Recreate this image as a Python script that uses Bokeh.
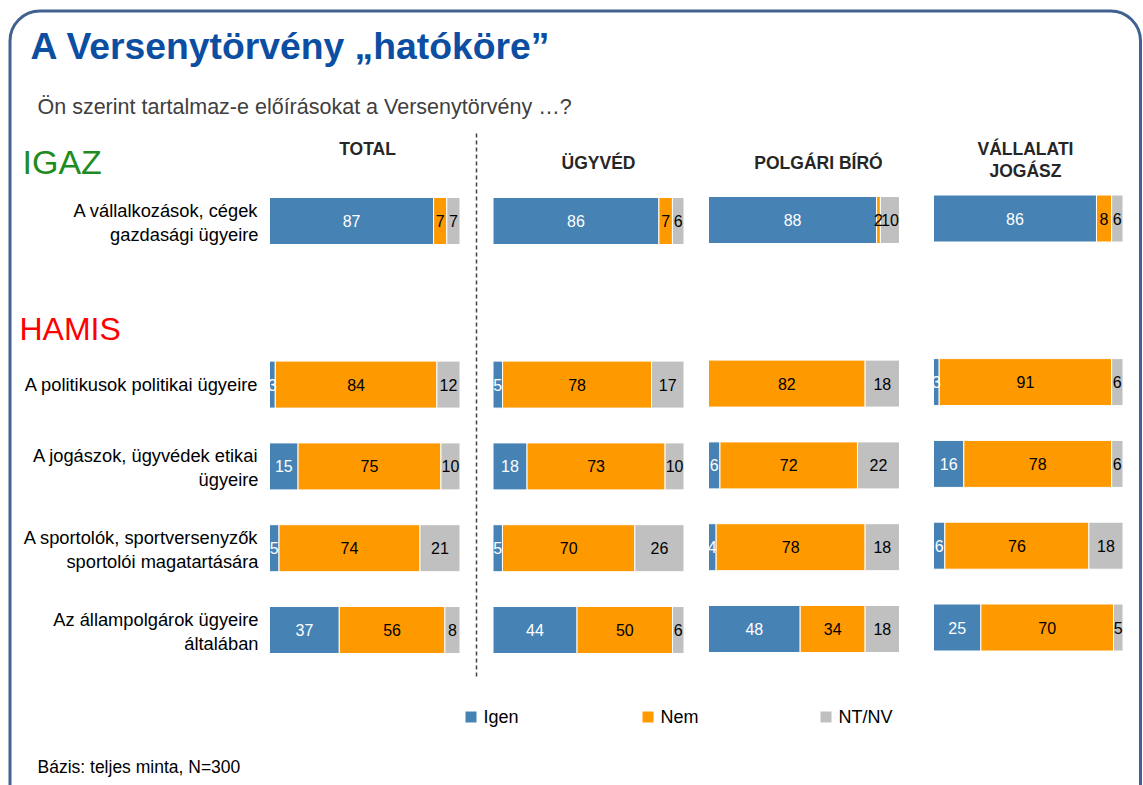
from bokeh.plotting import figure
from bokeh.models import Range1d, ColumnDataSource, BoxAnnotation
from bokeh.core.properties import value
from bokeh.embed import file_html
from bokeh.resources import INLINE

# ---------------- data ----------------
title_text = "A Versenytörvény „hatóköre”"
subtitle_text = "Ön szerint tartalmaz-e előírásokat a Versenytörvény …?"
footer_text = "Bázis: teljes minta, N=300"
section_labels = ["IGAZ", "HAMIS"]

statement_lines = [
    ["A vállalkozások, cégek", "gazdasági ügyeire"],
    ["A politikusok politikai ügyeire"],
    ["A jogászok, ügyvédek etikai", "ügyeire"],
    ["A sportolók, sportversenyzők", "sportolói magatartására"],
    ["Az állampolgárok ügyeire", "általában"],
]
statement_rows = [0, 2, 3, 4, 5]

series_names = ["Igen", "Nem", "NT/NV"]
series_colors = ["#4682B4", "#FF9900", "#C0C0C0"]
series_text_colors = ["#FFFFFF", "#000000", "#000000"]

group_headers = [["TOTAL"], ["ÜGYVÉD"], ["POLGÁRI BÍRÓ"], ["VÁLLALATI", "JOGÁSZ"]]

total_igen = [87, 3, 15, 5, 37]
total_nem = [7, 84, 75, 74, 56]
total_ntnv = [7, 12, 10, 21, 8]

ugyved_igen = [86, 5, 18, 5, 44]
ugyved_nem = [7, 78, 73, 70, 50]
ugyved_ntnv = [6, 17, 10, 26, 6]

biro_igen = [88, 0, 6, 4, 48]
biro_nem = [2, 82, 72, 78, 34]
biro_ntnv = [10, 18, 22, 18, 18]

jogasz_igen = [86, 3, 16, 6, 25]
jogasz_nem = [8, 91, 78, 76, 70]
jogasz_ntnv = [6, 6, 6, 18, 5]

group_data = [
    (total_igen, total_nem, total_ntnv),
    (ugyved_igen, ugyved_nem, ugyved_ntnv),
    (biro_igen, biro_nem, biro_ntnv),
    (jogasz_igen, jogasz_nem, jogasz_ntnv),
]

# ---------------- layout (screen pixels) ----------------
W, H = 1143, 785
PX0, PY0 = 0, 0
FONT = "Liberation Sans"
ROW_STEP = 81.8
BAR_H = 47 / ROW_STEP
# panel: left px, right px, row-0 centre px
panels = [(269, 459.5, 220.5), (492.5, 683.5, 220.5), (708, 899, 219.5), (933, 1122.5, 218)]
header_pos = [(367, [148]), (598, [162]), (818, [162]), (1025, [148, 170])]

p = figure(width=W, height=H, x_range=Range1d(PX0, PX0 + W), y_range=Range1d(PY0 + H, PY0),
           output_backend="svg", toolbar_location=None, min_border=0,
           x_axis_location=None, y_axis_location=None)
p.grid.visible = False
p.outline_line_color = None
p.background_fill_color = "white"
p.border_fill_color = "white"

# rounded frame
p.add_layout(BoxAnnotation(left=9.5, right=1140, top=10.5, bottom=830, fill_alpha=0,
                           line_color="#41628F", line_alpha=1, line_width=3, border_radius=30))

# titles
p.text(x=[30], y=[45], text=[title_text], text_font=value(FONT), text_font_style="bold",
       text_font_size="37.3px", text_color="#0B4EA2", text_baseline="middle")
p.text(x=[37], y=[106], text=[subtitle_text], text_font=value(FONT),
       text_font_size="21.5px", text_color="#404040", text_baseline="middle")
p.text(x=[22], y=[161], text=[section_labels[0]], text_font=value(FONT),
       text_font_size="34px", text_color="#1E8C1E", text_baseline="middle")
p.text(x=[19], y=[328], text=[section_labels[1]], text_font=value(FONT),
       text_font_size="32px", text_color="#FF0000", text_baseline="middle")
p.text(x=[37], y=[766], text=[footer_text], text_font=value(FONT),
       text_font_size="17.5px", text_color="#000000", text_baseline="middle")

# headers
hx, hy, ht = [], [], []
for (cx, ys), lines in zip(header_pos, group_headers):
    for yy, t in zip(ys, lines):
        hx.append(cx); hy.append(yy); ht.append(t)
p.text(x=hx, y=hy, text=ht, text_font=value(FONT), text_font_style="bold",
       text_font_size="17.5px", text_color="#262626", text_align="center", text_baseline="middle")

# dashed separator
p.line(x=[476, 476], y=[133, 678], line_color="#404040", line_width=1.5, line_dash="4 3")

# panels
for gi, ((a, b, row0), data) in enumerate(zip(panels, group_data)):
    name = f"g{gi}"
    xs = -(a - PX0) / (b - a) * 100
    xe = xs + W / (b - a) * 100
    p.extra_x_ranges[name] = Range1d(xs, xe)
    p.extra_y_ranges[name] = Range1d((PY0 + H - row0) / ROW_STEP, (PY0 - row0) / ROW_STEP)
    bars = dict(row=[], left=[], right=[], color=[], mid=[], label=[], tcolor=[])
    for ri, row in enumerate(statement_rows):
        vals = [data[s][ri] for s in range(3)]
        tot = sum(vals)
        cum = 0.0
        for s, v in enumerate(vals):
            l = cum / tot * 100
            cum += v
            r = cum / tot * 100
            if v <= 0:
                continue
            bars["row"].append(row); bars["left"].append(l); bars["right"].append(r)
            bars["color"].append(series_colors[s]); bars["mid"].append((l + r) / 2)
            bars["label"].append(str(v)); bars["tcolor"].append(series_text_colors[s])
    src = ColumnDataSource(bars)
    p.hbar(y="row", left="left", right="right", height=BAR_H, fill_color="color",
           line_color="white", line_width=1, source=src, x_range_name=name, y_range_name=name)
    p.text(x="mid", y="row", text="label", text_color="tcolor", text_font=value(FONT),
           text_font_size="16px", text_align="center", text_baseline="middle",
           source=src, x_range_name=name, y_range_name=name)

# statement labels
lx, ly, lt, lo = [], [], [], []
for row, lines in zip(statement_rows, statement_lines):
    if len(lines) == 1:
        offs = [0]
    else:
        offs = [-11, 13]
    for t, o in zip(lines, offs):
        lx.append(258); ly.append(row); lt.append(t); lo.append(o)
p.text(x=lx, y=ly, text=lt, y_offset=lo, text_font=value(FONT), text_font_size="18.3px",
       text_color="#000000", text_align="right", text_baseline="middle", y_range_name="g0")

# legend
leg_x = [465, 642, 820]
p.rect(x=[v + 5.5 for v in leg_x], y=[716.5] * 3, width=11, height=11,
       fill_color=series_colors, line_color=None)
p.text(x=[v + 18 for v in leg_x], y=[716] * 3, text=series_names, text_font=value(FONT),
       text_font_size="18px", text_color="#000000", text_baseline="middle")

open("out.html", "w").write(file_html(p, INLINE))
